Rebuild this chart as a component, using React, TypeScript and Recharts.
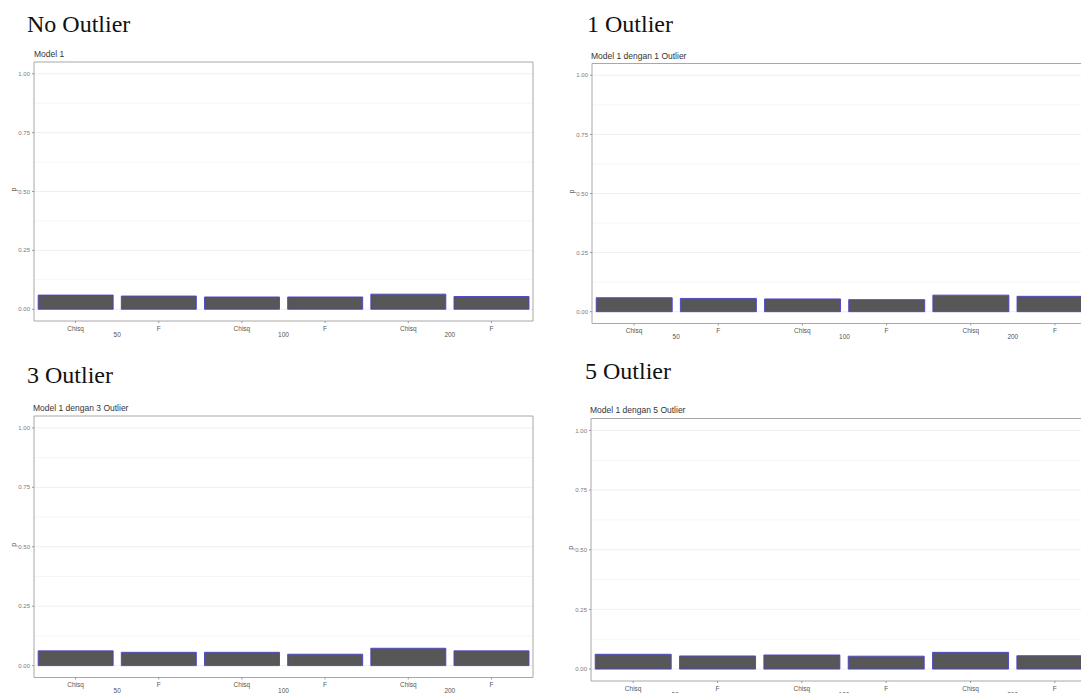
import { BarChart, Bar, XAxis, YAxis, CartesianGrid, ReferenceArea } from 'recharts'

// test statistic and sample size for each bar, left to right
const tests = ['Chisq', 'F', 'Chisq', 'F', 'Chisq', 'F']
const sampleSizes = ['50', '50', '100', '100', '200', '200']

// p values
const noOutlier = [0.06, 0.056, 0.052, 0.052, 0.064, 0.054]
const oneOutlier = [0.059, 0.056, 0.054, 0.051, 0.07, 0.065]
const threeOutlier = [0.062, 0.056, 0.056, 0.048, 0.073, 0.062]
const fiveOutlier = [0.062, 0.055, 0.059, 0.054, 0.07, 0.056]

const yTicks = [0, 0.25, 0.5, 0.75, 1]
const minorLines = [0.125, 0.375, 0.625, 0.875]

const makeRows = (values: number[]) =>
  values.map((p, i) => ({ key: `${sampleSizes[i]}-${tests[i]}`, p }))

const AXIS_FONT = '"Liberation Sans", Arial, sans-serif'
const Y_AXIS_W = 24

function TestTick(props: any) {
  const { x, y, payload, band } = props
  const [n, test] = String(payload.value).split('-')
  return (
    <g>
      <text x={x} y={y + 3} textAnchor="middle" dominantBaseline="central"
        fontSize={6.5} fill="#555" fontFamily={AXIS_FONT}>
        {test}
      </text>
      {test === 'F' && (
        <text x={x - band / 2} y={y + 9} textAnchor="middle" dominantBaseline="central"
          fontSize={6.5} fill="#555" fontFamily={AXIS_FONT}>
          {n}
        </text>
      )}
    </g>
  )
}

interface PanelProps {
  title: string
  subtitle: string
  values: number[]
  left: number
  top: number
  width: number
  height: number
  margin: { top: number; right: number; left: number; bottom: number }
  titleTop: number
  titleLeft: number
  subTop: number
  subLeft: number
}

function Panel(p: PanelProps) {
  const plotW = p.width - p.margin.left - p.margin.right - Y_AXIS_W
  const band = plotW / p.values.length
  return (
    <>
      <div style={{
        position: 'absolute', left: p.titleLeft, top: p.titleTop,
        fontFamily: '"Liberation Serif", "Times New Roman", serif', fontSize: 24,
        lineHeight: '24px', color: '#111', whiteSpace: 'nowrap',
      }}>
        {p.title}
      </div>
      <div style={{
        position: 'absolute', left: p.subLeft, top: p.subTop,
        fontFamily: AXIS_FONT, fontSize: 8.5, lineHeight: '8.5px', color: '#333', whiteSpace: 'nowrap',
      }}>
        {p.subtitle}
      </div>
      <div style={{ position: 'absolute', left: p.left, top: p.top }}>
        <BarChart width={p.width} height={p.height} data={makeRows(p.values)}
          margin={p.margin} barCategoryGap="5%">
          <CartesianGrid horizontalValues={minorLines} vertical={false} stroke="#f3f3f3" strokeWidth={0.8} />
          <CartesianGrid horizontalValues={yTicks} vertical={false} stroke="#ebebeb" strokeWidth={0.8} />
          <XAxis
            dataKey="key"
            interval={0}
            height={24}
            axisLine={false}
            tickSize={2}
            tickMargin={2}
            tickLine={{ stroke: '#999' }}
            tick={(t: any) => <TestTick {...t} band={band} />}
          />
          <YAxis
            type="number"
            domain={[-0.05, 1.05]}
            ticks={yTicks}
            interval={0}
            width={Y_AXIS_W}
            axisLine={false}
            tickSize={2}
            tickMargin={2}
            tickLine={{ stroke: '#999' }}
            tickFormatter={(v: number) => v.toFixed(2)}
            tick={{ fontSize: 6, fill: '#7a7a7a', fontFamily: AXIS_FONT }}
            label={{ value: 'p', angle: -90, position: 'insideLeft', offset: 4, fontSize: 7, fill: '#444', fontFamily: AXIS_FONT }}
          />
          <Bar dataKey="p" fill="#575757" stroke="#4a43c9" strokeWidth={0.9} isAnimationActive={false} />
          <ReferenceArea y1={-0.05} y2={1.05} fill="none" stroke="#a8a8a8" strokeWidth={1} />
        </BarChart>
      </div>
    </>
  )
}

export default function App() {
  return (
    <div style={{
      position: 'absolute', left: 0, top: 0, width: 1081, height: 693,
      overflow: 'hidden', background: '#fff',
    }}>
      <Panel title="No Outlier" subtitle="Model 1" values={noOutlier}
        left={0} top={0} width={540} height={345}
        margin={{ top: 62, right: 7, left: 10, bottom: 0 }}
        titleLeft={27} titleTop={12} subLeft={34} subTop={50} />
      <Panel title="1 Outlier" subtitle="Model 1 dengan 1 Outlier" values={oneOutlier}
        left={540} top={0} width={560} height={347.5}
        margin={{ top: 63.5, right: 3, left: 28, bottom: 0 }}
        titleLeft={587} titleTop={12} subLeft={591} subTop={52} />
      <Panel title="3 Outlier" subtitle="Model 1 dengan 3 Outlier" values={threeOutlier}
        left={0} top={354} width={540} height={347.5}
        margin={{ top: 62, right: 7, left: 10, bottom: 0 }}
        titleLeft={27} titleTop={363} subLeft={33} subTop={404} />
      <Panel title="5 Outlier" subtitle="Model 1 dengan 5 Outlier" values={fiveOutlier}
        left={540} top={356} width={560} height={349}
        margin={{ top: 62.5, right: 3, left: 27, bottom: 0 }}
        titleLeft={585} titleTop={359} subLeft={590} subTop={406} />
    </div>
  )
}
